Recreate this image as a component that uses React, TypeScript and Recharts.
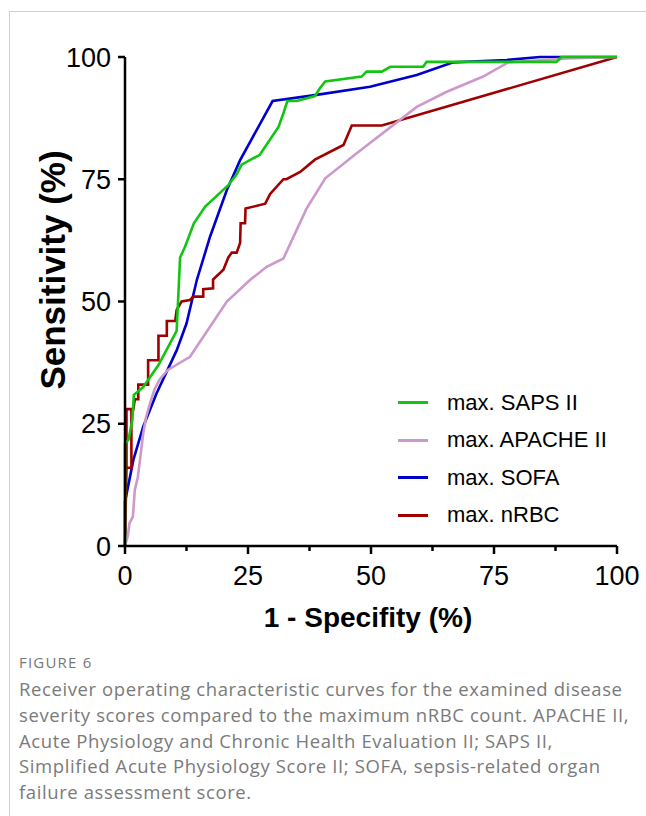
import { LineChart, Line, XAxis, YAxis, Legend, Label } from 'recharts';

// ROC points: 1 - specificity (x) and sensitivity (y), in %
const sapsFpr = [0, 0, 0.7, 1.5, 1.8, 3.7, 6.8, 10.5, 11.2, 12.2, 14, 16.3, 21, 22.7, 23.7, 27.4, 31.2, 32.2, 33, 34.9, 38.6, 39.6, 40.7, 48.1, 49.1, 52.2, 53.9, 60.6, 61.3, 87.7, 88.7, 100];
const sapsTpr = [0, 21, 21.7, 25.8, 30.9, 32.5, 37, 44, 59, 61.2, 66, 69.4, 73.8, 76, 78, 80, 85.7, 88.5, 91, 91, 92, 93.6, 95, 96, 97, 97, 98, 98, 99, 99, 100, 100];

const apacheFpr = [0, 0.6, 0.9, 1.6, 2, 2.6, 3.7, 4.3, 5.1, 6, 7, 8.7, 13.2, 20.7, 25.4, 28.8, 32.2, 36.9, 40.7, 47.1, 59.3, 65.4, 72.8, 77.9, 89.8, 100];
const apacheTpr = [0, 2.2, 4.6, 6, 11.5, 14, 23, 26.4, 29.2, 32, 34, 36, 38.7, 50, 54.4, 57.1, 58.8, 69, 75.2, 80.3, 89.8, 92.9, 96, 98.9, 99.7, 100];

const sofaFpr = [0, 0, 1.7, 3.7, 6.4, 10.5, 12.5, 14.6, 17.3, 20.7, 23.4, 30, 38.6, 49.8, 59.3, 66.7, 77.6, 84.3, 100];
const sofaTpr = [0, 9, 17.6, 24.4, 31.2, 40, 45.5, 54.4, 63.3, 72.8, 78.9, 91, 92.2, 93.9, 96.3, 98.9, 99.4, 100, 100];

const nrbcFpr = [0, 0.3, 0.3, 1.3, 1.3, 0.3, 0.3, 1.7, 2, 2.7, 2.7, 4.7, 4.7, 6.8, 6.8, 8.5, 8.5, 10.2, 10.5, 11.5, 13.2, 13.9, 15.9, 15.9, 17.9, 17.9, 20, 21, 21.7, 22.7, 23.4, 23.5, 24.4, 24.5, 28.5, 29.5, 32.2, 32.8, 35.6, 38.6, 44.4, 46.1, 52.2, 100];
const nrbcTpr = [0, 16, 28, 28, 16, 16, 28, 28, 30, 30, 33, 33, 38, 38, 43, 43, 46, 46, 48.3, 50, 50.3, 51, 51, 52.5, 52.7, 54.5, 56.5, 59, 60, 60, 62, 66, 66, 69, 70, 72, 75, 75, 76.5, 79, 82, 86, 86, 100];

const xTicks = [0, 12.5, 25, 37.5, 50, 62.5, 75, 87.5, 100];
const yTicks = [0, 25, 50, 75, 100];
const legendOrder = ['max. SAPS II', 'max. APACHE II', 'max. SOFA', 'max. nRBC'];

const captionTitle = 'FIGURE 6';
const captionLines = [
  'Receiver operating characteristic curves for the examined disease',
  'severity scores compared to the maximum nRBC count. APACHE II,',
  'Acute Physiology and Chronic Health Evaluation II; SAPS II,',
  'Simplified Acute Physiology Score II; SOFA, sepsis-related organ',
  'failure assessment score.',
];

const zip = (xs: number[], ys: number[]) => xs.map((x, i) => ({ x, y: ys[i] }));

// draw order: blue under, green on top
const series = [
  { name: 'max. SOFA', color: '#0000cc', data: zip(sofaFpr, sofaTpr) },
  { name: 'max. nRBC', color: '#a00000', data: zip(nrbcFpr, nrbcTpr) },
  { name: 'max. APACHE II', color: '#cc99cc', data: zip(apacheFpr, apacheTpr) },
  { name: 'max. SAPS II', color: '#11c611', data: zip(sapsFpr, sapsTpr) },
];

const FONT = '"Liberation Sans", Arial, sans-serif';

const XTick = (props: any) => {
  const { x, y, payload } = props;
  const major = payload.value % 25 === 0;
  return (
    <g>
      <line x1={x} x2={x} y1={y} y2={y + (major ? 8 : 5)} stroke="#000" strokeWidth={2.5} />
      {major && (
        <text x={x} y={y + 39} textAnchor="middle" fontSize={27} fontFamily={FONT} fill="#000">
          {payload.value}
        </text>
      )}
    </g>
  );
};

const YTick = (props: any) => {
  const { x, y, payload } = props;
  return (
    <g>
      <line x1={x - 7} x2={x} y1={y} y2={y} stroke="#000" strokeWidth={2.5} />
      <text x={x - 14} y={y + 9.5} textAnchor="end" fontSize={27} fontFamily={FONT} fill="#000">
        {payload.value}
      </text>
    </g>
  );
};

const LegendBox = (props: any) => {
  const items = [...(props.payload || [])].sort(
    (a: any, b: any) => legendOrder.indexOf(a.value) - legendOrder.indexOf(b.value)
  );
  return (
    <div style={{ fontFamily: FONT }}>
      {items.map((it: any) => (
        <div key={it.value} style={{ display: 'flex', alignItems: 'center', height: 37.5 }}>
          <div style={{ width: 30, height: 3, background: it.color, marginLeft: 3 }} />
          <span style={{ marginLeft: 19, fontSize: 22, color: '#000', whiteSpace: 'nowrap' }}>{it.value}</span>
        </div>
      ))}
    </div>
  );
};

export default function App() {
  return (
    <div style={{ position: 'absolute', left: 0, top: 0, width: 646, height: 816, background: '#fff', overflow: 'hidden' }}>
      <div
        style={{
          position: 'absolute',
          left: 9,
          top: 11,
          width: 700,
          height: 900,
          borderLeft: '1px solid #cfcfcf',
          borderTop: '1px solid #cfcfcf',
        }}
      />
      <div style={{ position: 'absolute', left: 0, top: 0 }}>
        <LineChart width={646} height={640} margin={{ top: 57, right: 29, bottom: 0, left: 0 }}>
          <XAxis
            type="number"
            dataKey="x"
            domain={[0, 100]}
            ticks={xTicks}
            interval={0}
            height={94}
            tickSize={0}
            tickMargin={0}
            tickLine={false}
            tick={<XTick />}
            axisLine={{ stroke: '#000', strokeWidth: 2.5 }}
            allowDuplicatedCategory
          >
            <Label
              content={(p: any) => {
                const vb = p.viewBox;
                return (
                  <text x={vb.x + vb.width / 2 - 3} y={vb.y + 81} textAnchor="middle" fontSize={28} fontWeight="bold" fontFamily={FONT} fill="#000">
                    1 - Specifity (%)
                  </text>
                );
              }}
            />
          </XAxis>
          <YAxis
            type="number"
            dataKey="y"
            domain={[0, 100]}
            ticks={yTicks}
            interval={0}
            width={125}
            tickSize={0}
            tickMargin={0}
            tickLine={false}
            tick={<YTick />}
            axisLine={{ stroke: '#000', strokeWidth: 2.5 }}
          >
            <Label
              content={() => (
                <text
                  x={0}
                  y={0}
                  transform="translate(65, 270) rotate(-90)"
                  textAnchor="middle"
                  fontSize={35}
                  fontWeight="bold"
                  fontFamily={FONT}
                  fill="#000"
                >
                  Sensitivity (%)
                </text>
              )}
            />
          </YAxis>
          <Legend
            layout="vertical"
            align="center"
            verticalAlign="middle"
            content={<LegendBox />}
            wrapperStyle={{ left: 395, top: 384, width: 240 }}
          />
          {series.map((s) => (
            <Line
              key={s.name}
              name={s.name}
              data={s.data}
              dataKey="y"
              type="linear"
              stroke={s.color}
              strokeWidth={2.6}
              dot={false}
              activeDot={false}
              isAnimationActive={false}
            />
          ))}
        </LineChart>
      </div>
      <div
        style={{
          position: 'absolute',
          left: 19,
          top: 652,
          fontFamily: '"Open Sans", sans-serif',
          fontSize: 15,
          letterSpacing: 1.2,
          lineHeight: '20px',
          color: '#777',
        }}
      >
        {captionTitle}
      </div>
      <div
        style={{
          position: 'absolute',
          left: 19,
          top: 676,
          fontFamily: '"Open Sans", sans-serif',
          fontSize: 18.5,
          letterSpacing: 0.6,
          lineHeight: '25.8px',
          color: '#7a7a7a',
          whiteSpace: 'nowrap',
        }}
      >
        {captionLines.map((l) => (
          <div key={l}>{l}</div>
        ))}
      </div>
    </div>
  );
}
